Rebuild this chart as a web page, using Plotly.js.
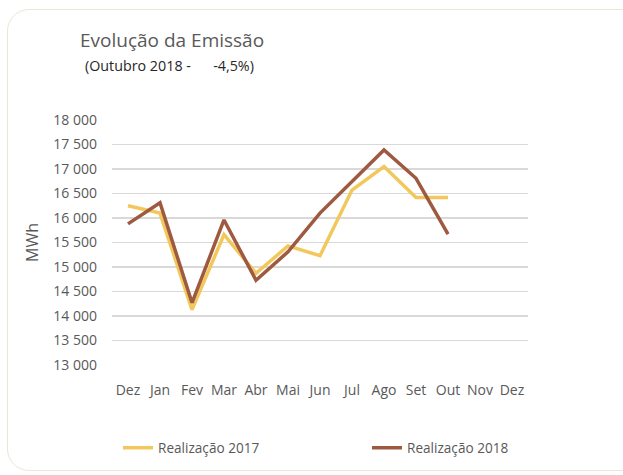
<!DOCTYPE html>
<html>
<head>
<meta charset="utf-8">
<script src="https://cdn.plot.ly/plotly-3.0.1.min.js"></script>
<style>
  html, body { margin: 0; padding: 0; background: #ffffff; }
  #wrap { position: relative; width: 623px; height: 475px; overflow: hidden; }
  #card { position: absolute; left: 7px; top: 9px; width: 640px; height: 462px;
          border: 1.5px solid #ebe6d6; border-radius: 22px; box-sizing: border-box; }
  #chart { position: absolute; left: 0; top: 0; width: 623px; height: 475px; }
</style>
</head>
<body>
<div id="wrap">
  <div id="card"></div>
  <div id="chart"></div>
</div>
<script>
const months = ["Dez", "Jan", "Fev", "Mar", "Abr", "Mai", "Jun", "Jul", "Ago", "Set", "Out", "Nov", "Dez"];
const real2017 = [16250, 16100, 14130, 15660, 14870, 15430, 15230, 16570, 17050, 16420, 16420];
const real2018 = [15880, 16310, 14270, 15960, 14730, 15310, 16100, 16740, 17390, 16810, 15670];
const yTicks = [13000, 13500, 14000, 14500, 15000, 15500, 16000, 16500, 17000, 17500, 18000];

const idx = months.map((m, i) => i);
const font = "'Open Sans', 'Noto Sans', sans-serif";

const traces = [
  { x: idx.slice(0, real2017.length), y: real2017, type: "scatter", mode: "lines",
    name: "Realização 2017", legend: "legend", line: { color: "#f2c85c", width: 3.5 } },
  { x: idx.slice(0, real2018.length), y: real2018, type: "scatter", mode: "lines",
    name: "Realização 2018", legend: "legend2", line: { color: "#9e5a40", width: 3.5 } }
];

const legendBase = {
  orientation: "h", xanchor: "left", yanchor: "middle", y: (365 - 448) / 245,
  font: { size: 13.6, color: "#595959" }, bgcolor: "rgba(0,0,0,0)"
};

const layout = {
  width: 623, height: 475,
  margin: { l: 112, r: 95, t: 120, b: 110 },
  paper_bgcolor: "rgba(0,0,0,0)", plot_bgcolor: "rgba(0,0,0,0)",
  separators: ", ",
  font: { family: font, color: "#595959", size: 14 },
  title: { text: "Evolução da Emissão", xref: "container", yref: "container",
           x: 80 / 623, xanchor: "left", y: 1 - 40 / 475, yanchor: "middle",
           font: { family: font, size: 19, color: "#595959" } },
  annotations: [
    { text: "(Outubro 2018 -      -4,5%)", xref: "paper", yref: "paper",
      x: (83 - 112) / 416, y: (365 - 65) / 245, xanchor: "left", yanchor: "middle",
      showarrow: false, font: { family: font, size: 14.3, color: "#262626" } }
  ],
  xaxis: {
    range: [-0.5, months.length - 0.5], tickmode: "array", tickvals: idx, ticktext: months,
    showgrid: false, zeroline: false, showline: false, ticks: "", fixedrange: true,
    ticklabelstandoff: 15,
    tickfont: { size: 14, color: "#595959" }
  },
  yaxis: {
    range: [13000, 18000], tickmode: "array", tickvals: yTicks, tickformat: ",.0f",
    showgrid: true, gridcolor: "#d9d9d9", gridwidth: 1.3, zeroline: false, showline: false,
    ticks: "", ticklen: 0, fixedrange: true, ticklabelstandoff: 14,
    tickfont: { size: 14, color: "#595959" },
    title: { text: "MWh", standoff: 10, font: { size: 16, color: "#595959" } }
  },
  showlegend: true,
  legend: Object.assign({}, legendBase, { x: (118 - 112) / 416 }),
  legend2: Object.assign({}, legendBase, { x: (367 - 112) / 416 })
};

Plotly.newPlot("chart", traces, layout, { displayModeBar: false, staticPlot: true });
</script>
</body>
</html>
